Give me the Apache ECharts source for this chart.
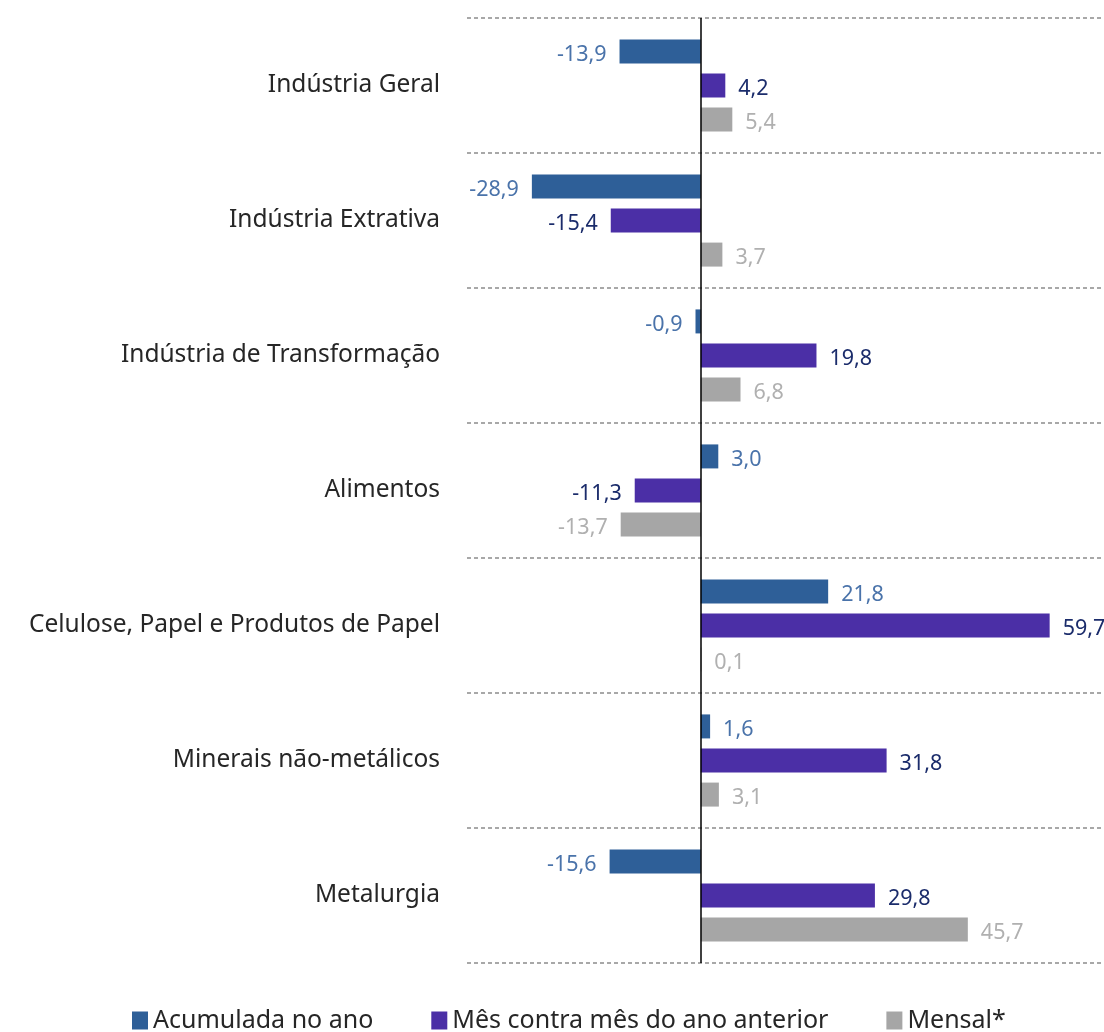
<!DOCTYPE html>
<html><head><meta charset="utf-8">
<script src="https://cdn.jsdelivr.net/npm/echarts@6/dist/echarts.min.js"></script>
<style>html,body{margin:0;padding:0;background:#fff}#c{width:1104px;height:1032px}</style>
</head><body><div id="c"></div>
<script>
const categories = ["Indústria Geral","Indústria Extrativa","Indústria de Transformação","Alimentos","Celulose, Papel e Produtos de Papel","Minerais não-metálicos","Metalurgia"];
const seriesNames = ["Acumulada no ano","Mês contra mês do ano anterior","Mensal*"];
const acumulada = [-13.9,-28.9,-0.9,3.0,21.8,1.6,-15.6];
const mesContraMes = [4.2,-15.4,19.8,-11.3,59.7,31.8,29.8];
const mensal = [5.4,3.7,6.8,-13.7,0.1,3.1,45.7];

const colors = ['#2E5F98','#4B2FA6','#A6A6A6'];
const labelColors = ['#4A73AA','#1B2C6B','#B0B0B0'];
const FONT = '"Noto Sans", "Open Sans", sans-serif';

function mk(name, data, i){
  return {
    name, type:'bar', data: data.map(v=>({value:v, label:{position: v<0?'left':'right'}})),
    barWidth:24, barGap:'42%',
    itemStyle:{color:colors[i]},
    label:{show:true, distance:13, color:labelColors[i], fontSize:21.5, fontFamily:FONT,
      offset:[0,3],
      formatter:p=>p.value.toFixed(1).replace('.',',')},
    markLine: i===0 ? {silent:true, symbol:'none', label:{show:false},
      lineStyle:{color:'#000', width:1.5, type:'solid'}, data:[{xAxis:0}]} : undefined
  };
}
const chart = echarts.init(document.getElementById('c'));
chart.setOption({
  animation:false,
  grid:{left:467, right:0, top:18, bottom:69, containLabel:false},
  xAxis:{type:'value', min:-40, max:69, show:false},
  yAxis:{type:'category', inverse:true, data:categories,
    axisLine:{show:false}, axisTick:{show:false},
    axisLabel:{fontSize:24.5, color:'#262626', fontFamily:FONT, margin:27, padding:[8,0,0,0]},
    splitLine:{show:true, lineStyle:{color:'#8C8C8C', type:[4,3], width:1.5}}},
  legend:{top:1003, left:127, itemGap:58, itemWidth:16, itemHeight:18, icon:'rect',
    textStyle:{fontSize:25, color:'#262626', fontFamily:FONT, padding:[0,0,0,0]}},
  series:[mk(seriesNames[0],acumulada,0), mk(seriesNames[1],mesContraMes,1), mk(seriesNames[2],mensal,2)]
});
</script></body></html>
